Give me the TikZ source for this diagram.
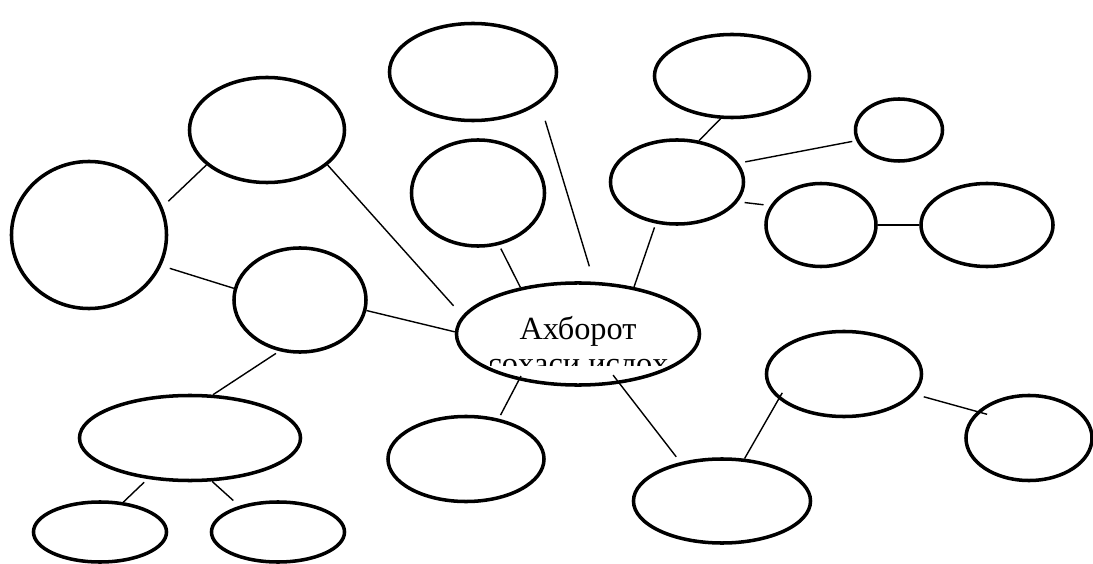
\documentclass[tikz,border=0pt]{standalone}
\usepackage{fontspec}
\setmainfont{Liberation Serif}
\usepackage{tikz}
\usetikzlibrary{shapes}

\begin{document}
\begin{tikzpicture}[
    x=0.025cm, y=-0.025cm,
    bubble/.style 2 args={ellipse, draw, line width=2.5pt, inner sep=0pt, minimum width=#1, minimum height=#2},
    link/.style={line width=1pt}
]
    \useasboundingbox (0,0) rectangle (1093,564);

    % Central node
    \node[bubble={6.075cm}{2.55cm}] (info) at (578,334) {};
    \begin{scope}
        \clip (info.north west) rectangle ([yshift=-0.775cm]info.east);
        \node[font=\fontsize{23}{26}\selectfont, anchor=base] (title) at ([yshift=-0.125cm]info.center) {Ахборот};
        \node[font=\fontsize{23}{26}\selectfont, anchor=base] (subtitle) at ([yshift=-0.88cm]title.base) {соҳаси ислоҳ};
    \end{scope}

    % Left branch
    \node[bubble={3.875cm}{2.625cm}] (upleft) at (267,130) {};
    \node[bubble={3.875cm}{3.675cm}] (farleft) at (89,235) {};
    \node[bubble={3.3cm}{2.6cm}] (midleft) at (300,300) {};
    \node[bubble={5.525cm}{2.125cm}] (lowleft) at (190,438) {};
    \node[bubble={3.325cm}{1.5cm}] (leafa) at (100,532) {};
    \node[bubble={3.325cm}{1.5cm}] (leafb) at (278,532) {};

    % Upper branch
    \node[bubble={4.175cm}{2.425cm}] (top) at (473,72) {};
    \node[bubble={3.325cm}{2.65cm}] (upper) at (478,193) {};

    % Right branch
    \node[bubble={3.875cm}{2.075cm}] (upright) at (732,76) {};
    \node[bubble={3.325cm}{2.1cm}] (hub) at (677,182) {};
    \node[bubble={2.175cm}{1.55cm}] (small) at (899,130) {};
    \node[bubble={2.75cm}{2.075cm}] (chaina) at (821,225) {};
    \node[bubble={3.3cm}{2.075cm}] (chainb) at (987,225) {};

    % Lower branch
    \node[bubble={3.9cm}{2.125cm}] (lower) at (466,459) {};
    \node[bubble={4.425cm}{2.1cm}] (bottom) at (722,501) {};
    \node[bubble={3.875cm}{2.125cm}] (lowright) at (844,374) {};
    \node[bubble={3.15cm}{2.125cm}] (edge) at (1029,438) {};

    % Links
    \draw[link, shorten <=0.2cm] (farleft.21) -- (upleft.210);
    \draw[link, shorten >=0.33cm] (upleft.-30) -- (info.171);
    \draw[link, shorten <=0.22cm] (farleft.-23) -- (midleft.170);
    \draw[link] (midleft.-9) -- (info.179);
    \draw[link, shorten <=0.1cm] (midleft.-112) -- (lowleft.62);
    \draw[link, shorten <=0.12cm] (lowleft.-136) -- (leafa.52);
    \draw[link, shorten >=0.2cm] (lowleft.-63) -- (leafb.146);
    \draw[link, shorten <=0.1cm] (upper.-68) -- (info.141);
    \draw[link, shorten <=0.46cm, shorten >=0.4cm] (top.-25) -- (info.73);
    \draw[link, shorten <=0.1cm] (hub.-117) -- (info.40);
    \draw[link] (upright.-105) -- (hub.62);
    \draw[link, shorten <=0.17cm, shorten >=0.1cm] (hub.17) -- (small.-166);
    \draw[link, shorten <=0.17cm, shorten >=0.17cm] (hub.-18) -- (chaina.159);
    \draw[link] (chaina.east) -- (chainb.west);
    \draw[link, shorten <=-0.12cm, shorten >=0.1cm] (info.-142) -- (lower.51);
    \draw[link, shorten <=-0.27cm, shorten >=0.17cm] (info.-50) -- (bottom.137);
    \draw[link, shorten >=-0.18cm] (bottom.62) -- (lowright.201);
    \draw[link, shorten <=0.24cm, shorten >=-0.26cm] (lowright.-16) -- (edge.153);
\end{tikzpicture}
\end{document}
